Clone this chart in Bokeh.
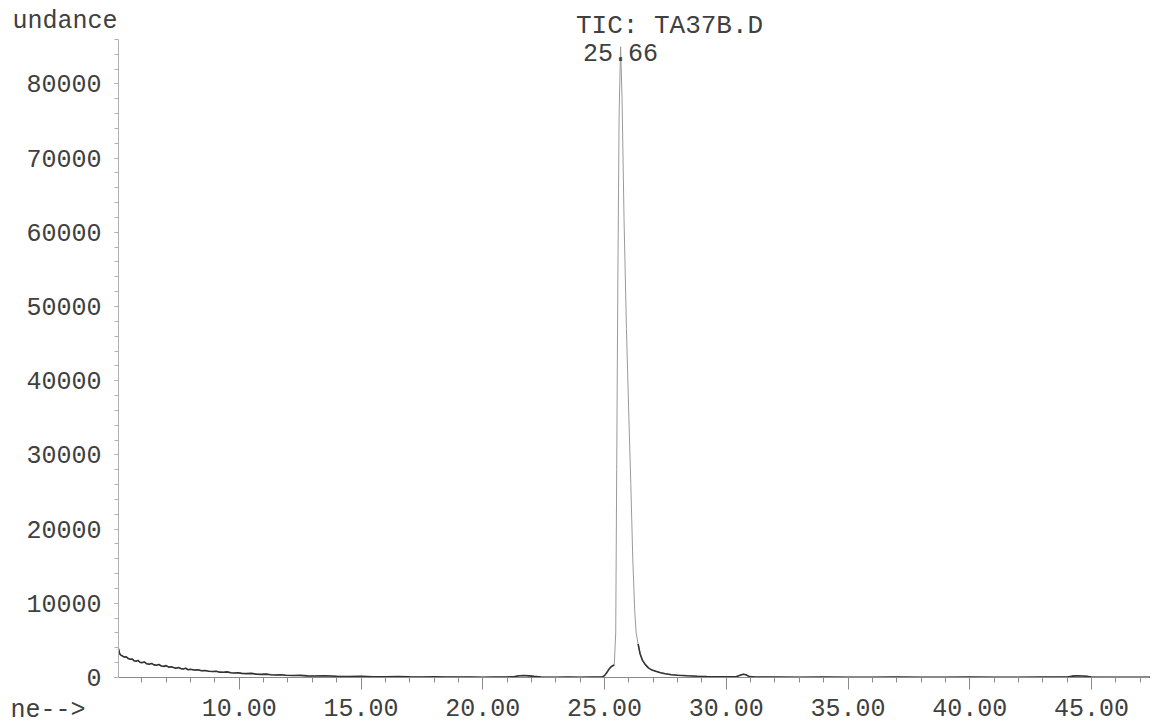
import math
from bokeh.plotting import figure
from bokeh.models import Range1d, FixedTicker, NumeralTickFormatter, Label, ColumnDataSource
from bokeh.core.properties import value
from bokeh.embed import file_html
from bokeh.resources import INLINE

# ---- data ----
rt = [5.04, 5.08, 5.12, 5.20, 5.28, 5.36, 5.44, 5.52, 5.60, 5.68, 5.76, 5.84, 5.92, 6.00,
      6.10, 6.20, 6.30, 6.40, 6.50, 6.60, 6.70, 6.80, 6.90, 7.00, 7.10, 7.20, 7.30, 7.40,
      7.50, 7.60, 7.70, 7.80, 7.90, 8.00, 8.15, 8.30, 8.45, 8.60, 8.75, 8.90, 9.05, 9.20,
      9.35, 9.50, 9.65, 9.80, 9.95, 10.10, 10.30, 10.50, 10.70, 10.90, 11.10, 11.30, 11.50,
      11.70, 11.90, 12.20, 12.50, 12.80, 13.10, 13.50, 14.00, 14.50, 15.00, 15.50, 16.00,
      16.50, 17.00, 17.50, 18.00, 18.50, 19.00, 19.50, 20.00, 20.50, 21.00, 21.30, 21.50,
      21.70, 21.90, 22.10, 22.40, 23.00, 23.50, 24.00, 24.50, 24.90, 25.00, 25.08, 25.16,
      25.24, 25.32, 25.40, 25.46, 25.50, 25.55, 25.60, 25.66, 25.72, 25.80, 25.90, 26.00,
      26.08, 26.16, 26.24, 26.30, 26.38, 26.46, 26.56, 26.66, 26.80, 26.95, 27.10, 27.30,
      27.50, 27.75, 28.00, 28.40, 28.80, 29.20, 29.60, 30.00, 30.40, 30.60, 30.70, 30.80,
      30.95, 31.20, 32.00, 33.00, 34.00, 35.00, 36.00, 37.00, 38.00, 39.00, 40.00, 41.00,
      42.00, 43.00, 44.00, 44.20, 44.40, 44.60, 44.80, 45.00, 46.00, 47.40]
abundance = [3900, 3300, 3050, 2900, 2750, 2800, 2550, 2450, 2500, 2250, 2200, 2300, 2050, 2000,
             2100, 1850, 1800, 1900, 1700, 1650, 1750, 1550, 1500, 1600, 1400, 1450, 1350, 1250,
             1350, 1200, 1150, 1250, 1050, 1100, 1000, 1050, 900, 950, 850, 800, 850, 720,
             700, 760, 640, 600, 650, 560, 520, 560, 450, 420, 460, 380, 340,
             360, 300, 260, 280, 220, 200, 230, 160, 140, 150, 110, 100,
             120, 80, 70, 90, 60, 50, 60, 40, 50, 60, 120, 230,
             260, 220, 150, 60, 40, 50, 40, 50, 60, 250, 600, 1000,
             1350, 1550, 1700, 6000, 28000, 55000, 76000, 85000, 78000, 62000, 47000, 35000,
             26000, 16000, 9000, 6000, 4500, 3200, 2300, 1800, 1300, 1000, 850, 650,
             500, 380, 300, 230, 170, 130, 110, 90, 100, 350, 450, 380,
             120, 60, 50, 40, 50, 40, 40, 50, 40, 40, 50, 40,
             40, 50, 60, 180, 220, 200, 160, 60, 40, 40]

peak_rt = [25.66]
peak_height = [85000]
peak_label = ["25.66"]

x_major = [10, 15, 20, 25, 30, 35, 40, 45]
x_minor = list(range(6, 48))
y_major = [0, 10000, 20000, 30000, 40000, 50000, 60000, 70000, 80000]
y_minor = list(range(0, 86001, 2000))

title_text = "TIC: TA37B.D"
y_title = "undance"
x_title = "ne-->"

FONT = "Liberation Mono"
TXT = "#404040"

# axis extents (time axis starts at 5.04 min, abundance axis tops out at 86000)
X0, X1 = 5.04, 47.40
Y0, Y1 = 0, 86000

# the plot frame fills the whole canvas; axes are pinned inside it
p = figure(width=1152, height=726, output_backend="svg", toolbar_location=None,
           x_range=Range1d(0.194, 47.504), y_range=Range1d(-6604, 91240),
           min_border=0)
p.outline_line_color = None
p.xgrid.visible = False
p.ygrid.visible = False
p.background_fill_color = "white"
p.border_fill_color = "white"

# full trace (faint, as printed through the tall peak)
src = ColumnDataSource(dict(rt=rt, ab=abundance))
p.line("rt", "ab", source=src, line_color="#9a9a9a", line_width=1.0)
# dense low-level baseline drawn darker (same data, peak top left out)
low = [a if a < 5000 else math.nan for a in abundance]
p.line(rt, low, line_color="#333333", line_width=1.6)

# peak label
p.text(x=peak_rt, y=peak_height, text=peak_label, text_font=value(FONT),
       text_font_size="25px", text_color=TXT, text_align="center",
       text_baseline="middle", y_offset=6)

# axes
xa = p.xaxis[0]
xa.fixed_location = Y0
xa.bounds = (X0, X1)
xa.ticker = FixedTicker(ticks=x_major, minor_ticks=x_minor)
xa.formatter = NumeralTickFormatter(format="0.00")
xa.axis_line_color = "#8a8a8a"
xa.major_tick_line_color = "#8a8a8a"
xa.minor_tick_line_color = "#8a8a8a"
xa.major_tick_in = 0
xa.minor_tick_in = 0
xa.major_tick_out = 12
xa.minor_tick_out = 5
xa.major_label_standoff = 10
xa.major_label_text_font = FONT
xa.major_label_text_font_size = "25px"
xa.major_label_text_color = TXT

ya = p.yaxis[0]
ya.fixed_location = X0
ya.bounds = (Y0, Y1)
ya.ticker = FixedTicker(ticks=y_major, minor_ticks=y_minor)
ya.formatter = NumeralTickFormatter(format="0")
ya.axis_line_color = "#b0b0b0"
ya.major_tick_line_color = "#b0b0b0"
ya.minor_tick_line_color = "#b0b0b0"
ya.major_tick_in = 0
ya.minor_tick_in = 0
ya.major_tick_out = 4
ya.minor_tick_out = 4
ya.major_label_standoff = 13
ya.major_label_text_font = FONT
ya.major_label_text_font_size = "25px"
ya.major_label_text_color = TXT

# header / footer texts
p.add_layout(Label(x=27.67, y=87870, text=title_text, text_font=FONT, text_font_size="26px",
                   text_color=TXT, text_align="center", text_baseline="middle"))
p.add_layout(Label(x=0.687, y=88410, text=y_title, text_font=FONT, text_font_size="25px",
                   text_color=TXT, text_align="left", text_baseline="middle"))
p.add_layout(Label(x=0.605, y=-4447, text=x_title, text_font=FONT, text_font_size="25px",
                   text_color=TXT, text_align="left", text_baseline="alphabetic"))

open("out.html", "w").write(file_html(p, INLINE))
